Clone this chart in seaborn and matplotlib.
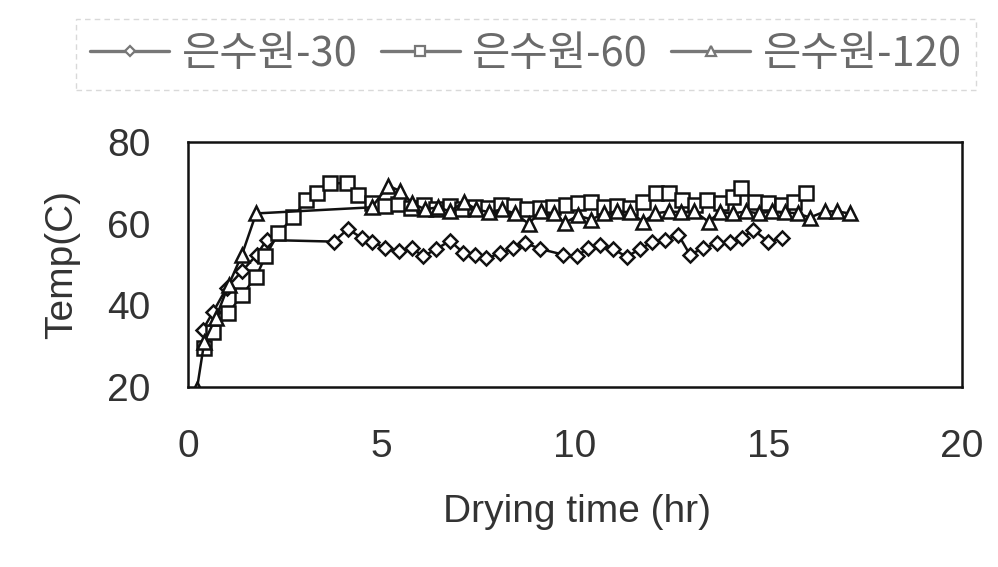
import matplotlib
matplotlib.use("Agg")
import matplotlib.pyplot as plt
import seaborn as sns
import pandas as pd

# Drying temperature profiles for three drying conditions
series_names = ["은수원-30", "은수원-60", "은수원-120"]

time_30 = [0.38, 0.65, 1.00, 1.39, 1.77, 2.03, 3.77, 4.13, 4.49, 4.75, 5.09, 5.46,
           5.78, 6.08, 6.42, 6.77, 7.11, 7.42, 7.71, 8.06, 8.41, 8.71, 9.10, 9.70,
           10.04, 10.34, 10.65, 10.99, 11.34, 11.68, 11.98, 12.32, 12.67, 12.97,
           13.32, 13.66, 14.01, 14.31, 14.61, 14.99, 15.34]
temp_30 = [34.0, 38.4, 44.3, 48.3, 52.3, 56.0, 55.6, 58.7, 56.5, 55.6, 54.0, 53.2,
           54.0, 52.0, 53.8, 55.8, 52.9, 52.4, 51.5, 52.7, 54.0, 55.3, 53.8, 52.4,
           52.0, 54.0, 54.8, 53.7, 51.9, 53.8, 55.4, 56.0, 57.3, 52.4,
           54.0, 55.2, 55.6, 56.4, 58.5, 55.6, 56.4]

time_60 = [0.40, 0.65, 1.04, 1.39, 1.76, 2.00, 2.33, 2.72, 3.06, 3.33, 3.67, 4.10,
           4.40, 4.75, 5.09, 5.42, 5.76, 6.09, 6.42, 6.76, 7.09, 7.42, 7.76, 8.09,
           8.42, 8.76, 9.09, 9.42, 9.76, 10.09, 10.42, 10.76, 11.09, 11.42, 11.76,
           12.09, 12.42, 12.76, 13.09, 13.42, 13.76, 14.09, 14.30, 14.65, 15.00,
           15.35, 15.65, 15.98]
temp_60 = [29.5, 33.5, 38.0, 42.5, 47.0, 52.0, 57.6, 61.6, 65.8, 67.4, 69.9, 69.9,
           67.0, 65.0, 64.2, 64.8, 63.8, 64.5, 63.5, 64.2, 63.6, 64.0, 63.8, 64.5,
           64.3, 63.5, 63.8, 64.0, 64.5, 65.0, 65.4, 64.0, 64.3, 63.8, 65.4,
           67.4, 67.4, 65.8, 64.5, 65.8, 65.0, 66.6, 68.7, 65.4, 65.0,
           64.5, 65.2, 67.4]

time_120 = [0.23, 0.42, 0.72, 1.05, 1.39, 1.76, 4.75, 5.17, 5.48, 5.80, 6.12, 6.45,
            6.78, 7.12, 7.45, 7.78, 8.12, 8.45, 8.80, 9.12, 9.45, 9.74, 10.08, 10.42,
            10.75, 11.08, 11.42, 11.76, 12.08, 12.42, 12.75, 13.08, 13.45, 13.75,
            14.08, 14.42, 14.75, 15.08, 15.42, 15.75, 16.07, 16.46, 16.76, 17.10]
temp_120 = [19.5, 31.0, 37.0, 45.0, 52.3, 62.5, 64.0, 69.3, 68.0, 65.0, 63.5, 64.0,
            63.0, 65.4, 63.5, 62.8, 63.5, 62.5, 60.0, 63.0, 62.5, 60.2, 62.0, 61.0,
            62.5, 63.0, 62.8, 60.5, 62.5, 63.0, 62.8, 63.0, 60.5, 62.8,
            62.5, 63.0, 62.5, 63.0, 62.8, 62.5, 61.5, 63.0, 63.0, 62.5]

x_ticks = [0, 5, 10, 15, 20]
y_ticks = [20, 40, 60, 80]

df = pd.concat([
    pd.DataFrame({"time": time_30, "temp": temp_30, "series": series_names[0]}),
    pd.DataFrame({"time": time_60, "temp": temp_60, "series": series_names[1]}),
    pd.DataFrame({"time": time_120, "temp": temp_120, "series": series_names[2]}),
], ignore_index=True)

sns.set_theme(style="white")
plt.rcParams["font.family"] = ["Liberation Sans", "DejaVu Sans"]

fig = plt.figure(figsize=(9.98, 5.67), dpi=100)
ax = fig.add_axes([0.1884, 0.3175, 0.7755, 0.4321])

marker_styles = {
    series_names[0]: dict(marker="D", markersize=7.5),
    series_names[1]: dict(marker="s", markersize=10),
    series_names[2]: dict(marker="^", markersize=10),
}

for name in series_names:
    sub = df[df["series"] == name]
    sns.lineplot(data=sub, x="time", y="temp", ax=ax, color="#111111",
                 linewidth=1.8, sort=False, estimator=None,
                 markerfacecolor="white", markeredgecolor="#111111",
                 markeredgewidth=1.8, **marker_styles[name])

ax.set_xlim(0, 20)
ax.set_ylim(20, 80)
ax.set_xticks(x_ticks)
ax.set_yticks(y_ticks)
ax.set_xlabel("")
ax.set_ylabel("")
ax.tick_params(axis="both", length=0, labelsize=28, colors="#333333")
ax.tick_params(axis="x", pad=30)
ax.tick_params(axis="y", pad=27)
for sp in ax.spines.values():
    sp.set_visible(True)
    sp.set_color("#111111")
    sp.set_linewidth(1.8)

fig.text(0.578, 0.097, "Drying time (hr)", ha="center", va="center",
         fontsize=28, color="#333333")
fig.text(0.062, 0.533, "Temp(C)", ha="center", va="center", rotation=90,
         fontsize=28, color="#333333")

leg_handles = []
for name in series_names:
    ln = plt.Line2D([], [], color="#777777", linewidth=2.4,
                    marker=marker_styles[name]["marker"],
                    markersize=marker_styles[name]["markersize"] * 0.65,
                    markerfacecolor="white", markeredgecolor="#777777",
                    markeredgewidth=1.6)
    leg_handles.append(ln)

leg = fig.legend(leg_handles, series_names, loc="center",
                 bbox_to_anchor=(0.527, 0.904), ncol=3,
                 frameon=True, fancybox=False, handlelength=1.9,
                 handletextpad=0.3, columnspacing=0.55, borderpad=0.35,
                 prop={"family": ["Noto Sans CJK KR", "DejaVu Sans"], "size": 30})
for t in leg.get_texts():
    t.set_color("#6a6a6a")
frame = leg.get_frame()
frame.set_edgecolor("#d0d0d0")
frame.set_linewidth(1.0)
frame.set_linestyle((0, (4, 3)))

fig.savefig("out.png", dpi=100, facecolor="white")
